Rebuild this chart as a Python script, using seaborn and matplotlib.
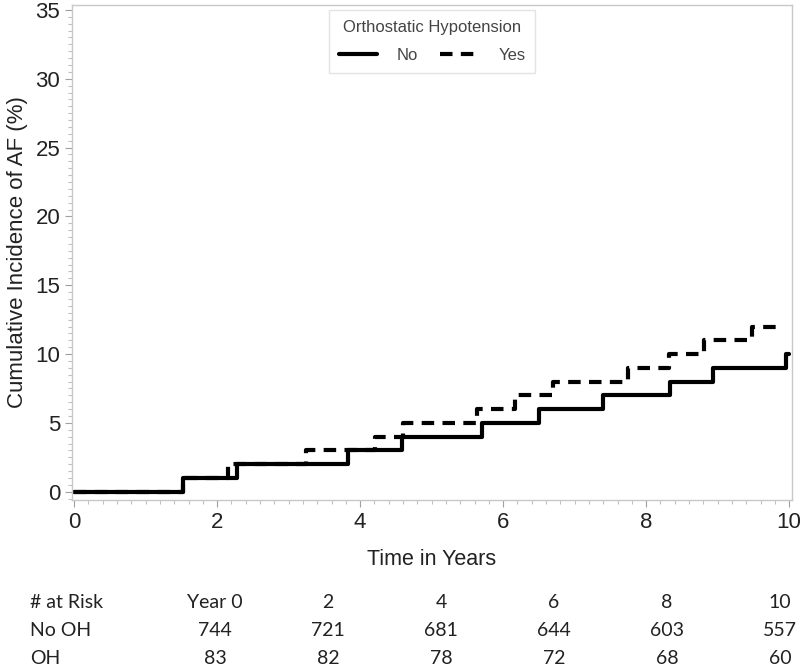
import pandas as pd
import matplotlib
matplotlib.use("Agg")
import matplotlib.pyplot as plt
import matplotlib.ticker as ticker
from matplotlib.lines import Line2D
import seaborn as sns

# step times (years) and cumulative incidence (%)
no_time = [0, 1.52, 2.28, 3.83, 4.58, 5.70, 6.50, 7.40, 8.34, 8.94, 9.95, 10.0]
no_inc = [0, 1, 2, 3, 4, 5, 6, 7, 8, 9, 10, 10]
yes_time = [0, 1.52, 2.15, 3.24, 4.21, 4.60, 5.64, 6.17, 6.70, 7.75, 8.32, 8.81, 9.48, 9.87]
yes_inc = [0, 1, 2, 3, 4, 5, 6, 7, 8, 9, 10, 11, 12, 12]

# numbers at risk table
risk_cols = ["Year 0", "2", "4", "6", "8", "10"]
risk_rows = ["No OH", "OH"]
risk_no_oh = [744, 721, 681, 644, 603, 557]
risk_oh = [83, 82, 78, 72, 68, 60]

df = pd.concat([
    pd.DataFrame({"time": no_time, "inc": no_inc, "OH": "No"}),
    pd.DataFrame({"time": yes_time, "inc": yes_inc, "OH": "Yes"}),
])

sns.set_style("white")
plt.rcParams["font.family"] = ["Liberation Sans", "DejaVu Sans"]

fig = plt.figure(figsize=(8, 6.69), dpi=100)
ax = fig.add_axes([0.09, 0.2526, 0.9, 0.74])

sns.lineplot(
    data=df, x="time", y="inc", style="OH", style_order=["Yes", "No"],
    dashes={"No": "", "Yes": (3, 2)}, color="black", linewidth=3,
    drawstyle="steps-post", estimator=None, sort=False, legend=False, ax=ax,
)

ax.set_xlim(-0.03, 10.04)
ax.set_ylim(-0.6, 35.36)
ax.xaxis.set_major_locator(ticker.MultipleLocator(2))
ax.xaxis.set_minor_locator(ticker.MultipleLocator(0.2))
ax.yaxis.set_major_locator(ticker.MultipleLocator(5))
ax.yaxis.set_minor_locator(ticker.MultipleLocator(0.5))
ax.tick_params(which="both", direction="out", width=0.8)
ax.tick_params(which="major", length=5, labelsize=16, colors="#a0a0a0", labelcolor="#222222")
ax.tick_params(which="minor", length=3, colors="#c0c0c0")
ax.tick_params(axis="x", which="both", bottom=True)
ax.tick_params(axis="y", which="both", left=True)
for s in ax.spines.values():
    s.set_color("#c8c8c8")
    s.set_linewidth(1)

ax.set_xlabel("Time in Years", fontsize=15.5, color="#222222", labelpad=12)
ax.set_ylabel("Cumulative Incidence of AF (%)", fontsize=16, color="#222222", labelpad=5)

handles = [
    Line2D([], [], color="black", linewidth=3, label="No"),
    Line2D([], [], color="black", linewidth=3, dashes=(3, 2), label="Yes"),
]
leg = ax.legend(handles=handles, title="Orthostatic Hypotension", ncol=2,
                loc="upper center", bbox_to_anchor=(0.5, 0.99), borderaxespad=0,
                frameon=True, fontsize=12, title_fontsize=12, handlelength=2.3,
                handletextpad=1.2, columnspacing=1.3, fancybox=False,
                borderpad=0.6, labelspacing=0.8)
leg.get_frame().set_edgecolor("#dddddd")
for t in leg.get_texts():
    t.set_color("#444444")
leg.get_title().set_color("#444444")

# at-risk table
tab = fig.add_axes([0, 0, 1, 0.15])
tab.set_xlim(0, 800)
tab.set_ylim(0, 100)
tab.axis("off")
tfont = dict(family=["Lato", "DejaVu Sans"], fontsize=14, color="#222222", va="center")
row_y = [66, 38, 10]
col_x = [215 + 113 * i for i in range(len(risk_cols))]
tab.text(30, row_y[0], "# at Risk", ha="left", **tfont)
for x, c in zip(col_x, risk_cols):
    tab.text(x, row_y[0], c, ha="center", **tfont)
for r, (name, vals) in enumerate(zip(risk_rows, [risk_no_oh, risk_oh])):
    tab.text(30, row_y[r + 1], name, ha="left", **tfont)
    for x, v in zip(col_x, vals):
        tab.text(x, row_y[r + 1], str(v), ha="center", **tfont)

fig.savefig("out.png", dpi=100)
